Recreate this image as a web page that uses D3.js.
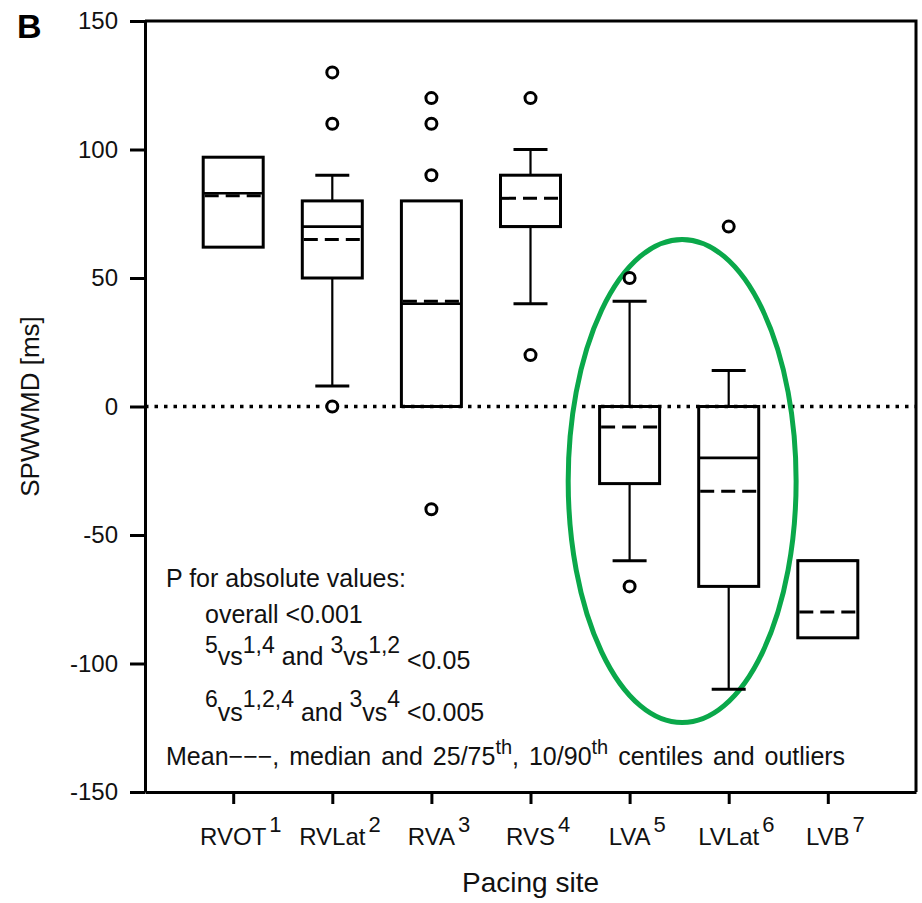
<!DOCTYPE html>
<html>
<head>
<meta charset="utf-8">
<script src="https://cdn.jsdelivr.net/npm/d3@7"></script>
<style>
  body { margin: 0; background: #fff; }
  svg { display: block; font-family: "Liberation Sans", Arial, sans-serif; }
</style>
</head>
<body>
<svg id="drawing_region"></svg>
<script>
// pacing sites and their footnote numbers
const sites = ['RVOT', 'RVLat', 'RVA', 'RVS', 'LVA', 'LVLat', 'LVB'];
const siteNums = ['1', '2', '3', '4', '5', '6', '7'];

// box statistics (ms)
const q1 = [62, 50, 0, 70, -30, -70, -90];
const q3 = [97, 80, 80, 90, 0, 0, -60];
const medians = [83, 70, 40, 70, 0, -20, -60];
const means = [82, 65, 41, 81, -8, -33, -80];
const whiskLo = [null, 8, null, 40, -60, -110, null];
const whiskHi = [null, 90, null, 100, 41, 14, null];
const outliers = [[], [130, 110, 0], [120, 110, 90, -40], [120, 20], [50, -70], [70], []];

const yTicks = [-150, -100, -50, 0, 50, 100, 150];

// green ring round the LV sites
const ringSites = ['LVA', 'LVLat'];
const ringTop = 65, ringBottom = -123;

const config = {
    width: 922,
    height: 903,
    margin: {top: 21, right: 6, bottom: 111, left: 145},
    xlabel: 'Pacing site',
    ylabel: 'SPWWMD [ms]'
};

const svg = d3.select('#drawing_region')
    .attr('width', config.width)
    .attr('height', config.height);

const inner_width = config.width - config.margin.left - config.margin.right;
const inner_height = config.height - config.margin.top - config.margin.bottom;

const chart = svg.append('g')
    .attr('transform', `translate(${config.margin.left}, ${config.margin.top})`);

const xscale = d3.scalePoint()
    .domain(sites)
    .range([0, inner_width])
    .padding(0.89);

const yscale = d3.scaleLinear()
    .domain([-150, 150])
    .range([inner_height, 0]);

// zero reference line
chart.append('line')
    .attr('x1', 0).attr('x2', inner_width)
    .attr('y1', yscale(0)).attr('y2', yscale(0))
    .attr('stroke', '#000')
    .attr('stroke-width', 3.5)
    .attr('stroke-dasharray', '3.5,6');

// ring
const ringX = d3.mean(ringSites, s => xscale(s)) + 3;
chart.append('ellipse')
    .attr('cx', ringX)
    .attr('cy', (yscale(ringTop) + yscale(ringBottom)) / 2)
    .attr('rx', xscale.step() * 1.15)
    .attr('ry', (yscale(ringBottom) - yscale(ringTop)) / 2)
    .attr('fill', 'none')
    .attr('stroke', '#0aa84a')
    .attr('stroke-width', 5);

// boxes
const boxW = 60, capW = 34;
const data = sites.map((s, i) => ({
    site: s, q1: q1[i], q3: q3[i], med: medians[i], mean: means[i],
    lo: whiskLo[i], hi: whiskHi[i], out: outliers[i]
}));

const g = chart.selectAll('.site')
    .data(data)
    .enter()
    .append('g')
    .attr('class', 'site')
    .attr('transform', d => `translate(${xscale(d.site)}, 0)`);

// whiskers
g.filter(d => d.hi != null).each(function(d) {
    const s = d3.select(this);
    s.append('line')
        .attr('x1', 0).attr('x2', 0)
        .attr('y1', yscale(d.q3)).attr('y2', yscale(d.hi))
        .attr('stroke', '#000').attr('stroke-width', 2.2);
    s.append('line')
        .attr('x1', 0).attr('x2', 0)
        .attr('y1', yscale(d.q1)).attr('y2', yscale(d.lo))
        .attr('stroke', '#000').attr('stroke-width', 2.2);
    [d.hi, d.lo].forEach(v => {
        s.append('line')
            .attr('x1', -capW / 2).attr('x2', capW / 2)
            .attr('y1', yscale(v)).attr('y2', yscale(v))
            .attr('stroke', '#000').attr('stroke-width', 3);
    });
});

g.append('rect')
    .attr('x', -boxW / 2)
    .attr('y', d => yscale(d.q3))
    .attr('width', boxW)
    .attr('height', d => yscale(d.q1) - yscale(d.q3))
    .attr('fill', 'none')
    .attr('stroke', '#000')
    .attr('stroke-width', 3);

g.append('line')
    .attr('x1', -boxW / 2).attr('x2', boxW / 2)
    .attr('y1', d => yscale(d.med)).attr('y2', d => yscale(d.med))
    .attr('stroke', '#000').attr('stroke-width', 2.6);

g.append('line')
    .attr('x1', -boxW / 2 + 1.5).attr('x2', boxW / 2)
    .attr('y1', d => yscale(d.mean)).attr('y2', d => yscale(d.mean))
    .attr('stroke', '#000').attr('stroke-width', 3)
    .attr('stroke-dasharray', '14,7');

g.selectAll('circle')
    .data(d => d.out)
    .enter()
    .append('circle')
    .attr('cx', 0)
    .attr('cy', d => yscale(d))
    .attr('r', 5.5)
    .attr('fill', '#fff')
    .attr('stroke', '#000')
    .attr('stroke-width', 3);

// axes
const yaxis = d3.axisLeft(yscale)
    .tickValues(yTicks)
    .tickSize(15)
    .tickSizeOuter(0)
    .tickPadding(12)
    .tickFormat(d => String(d));

const yaxis_group = chart.append('g').call(yaxis);
yaxis_group.selectAll('path, line').attr('stroke-width', 3);
yaxis_group.selectAll('text')
    .attr('font-size', 24)
    .attr('font-family', '"Liberation Sans", Arial, sans-serif')
    .attr('fill', '#111');

const xaxis = d3.axisBottom(xscale)
    .tickSize(12)
    .tickSizeOuter(0)
    .tickFormat('');

const xaxis_group = chart.append('g')
    .attr('transform', `translate(0, ${inner_height})`)
    .call(xaxis);
xaxis_group.selectAll('path, line').attr('stroke-width', 3);

// frame top and right
chart.append('path')
    .attr('d', `M0,0H${inner_width}V${inner_height}`)
    .attr('fill', 'none')
    .attr('stroke', '#000')
    .attr('stroke-width', 3);

// x tick labels with superscript numbers
sites.forEach((s, i) => {
    const t = chart.append('text')
        .attr('x', xscale(s))
        .attr('y', inner_height + 53)
        .attr('text-anchor', 'middle')
        .attr('font-size', 24)
        .attr('fill', '#111')
        .text(s);
    const w = t.node().getComputedTextLength();
    chart.append('text')
        .attr('x', xscale(s) + w / 2 + 3)
        .attr('y', inner_height + 40)
        .attr('font-size', 22)
        .attr('fill', '#111')
        .text(siteNums[i]);
});

// axis titles
svg.append('text')
    .attr('x', config.margin.left + inner_width / 2)
    .attr('y', 892)
    .attr('text-anchor', 'middle')
    .attr('font-size', 28)
    .attr('fill', '#111')
    .text(config.xlabel);

svg.append('text')
    .attr('transform', `translate(39, ${config.margin.top + inner_height / 2}) rotate(-90)`)
    .attr('text-anchor', 'middle')
    .attr('font-size', 26)
    .attr('fill', '#111')
    .text(config.ylabel);

svg.append('text')
    .attr('x', 17)
    .attr('y', 38)
    .attr('font-size', 34)
    .attr('font-weight', 'bold')
    .text('B');

// notes: runs of [text, baseline shift, font size]
function runs(x, y, parts, wordSpacing) {
    const t = svg.append('text')
        .attr('x', x)
        .attr('y', y)
        .attr('fill', '#111')
        .attr('word-spacing', wordSpacing || 0);
    let prev = 0;
    parts.forEach(p => {
        t.append('tspan')
            .attr('dy', p[1] - prev)
            .attr('font-size', p[2])
            .text(p[0]);
        prev = p[1];
    });
}

runs(166, 587, [['P for absolute values:', 0, 25]]);
runs(205, 623, [['overall <0.001', 0, 25]]);
runs(205, 665, [
    ['5', -12, 23], ['vs', 0, 25], ['1,4', -12, 23], ['\u00a0and\u00a0', 0, 25],
    ['3', -12, 23], ['vs', 0, 25], ['1,2', -12, 23], ['\u00a0<0.05', 4, 25]
]);
runs(205, 721, [
    ['6', -14, 23], ['vs', 0, 25], ['1,2,4', -14, 23], ['\u00a0and\u00a0', 0, 25],
    ['3', -14, 23], ['vs', 0, 25], ['4', -14, 23], ['\u00a0<0.005', 0, 25]
]);
runs(166, 765, [
    ['Mean\u2212\u2212\u2212, median and 25/75', 0, 25], ['th', -11, 20],
    [', 10/90', 0, 25], ['th', -11, 20], ['\u00a0centiles and outliers', 0, 25]
], 3);
</script>
</body>
</html>
